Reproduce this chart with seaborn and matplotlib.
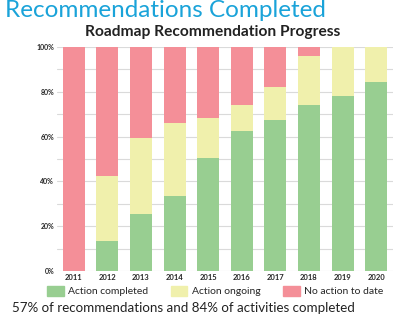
import matplotlib
matplotlib.use("Agg")
import matplotlib.pyplot as plt
import seaborn as sns
import pandas as pd
from matplotlib.patches import Patch

years = ["2011", "2012", "2013", "2014", "2015", "2016", "2017", "2018", "2019", "2020"]
completed = [0, 13.4, 25.6, 33.5, 50.4, 62.5, 67.4, 74.1, 78.1, 84.4]
ongoing = [0, 29.0, 33.6, 32.5, 17.9, 11.6, 14.7, 21.9, 21.9, 15.6]
no_action = [100, 57.6, 40.8, 34.0, 31.7, 25.9, 17.9, 4.0, 0, 0]
series_names = ["Action completed", "Action ongoing", "No action to date"]
yticks = [0, 20, 40, 60, 80, 100]

c_green = "#98CE91"
c_yellow = "#F0F0AC"
c_red = "#F48F98"

sns.set_theme(style="white")
plt.rcParams["font.family"] = ["Lato", "DejaVu Sans"]

df = pd.DataFrame({"year": years, "completed": completed, "ongoing": ongoing, "no_action": no_action})
df["top_ongoing"] = df["completed"] + df["ongoing"]
df["top_all"] = df["top_ongoing"] + df["no_action"]

fig = plt.figure(figsize=(4.02, 3.28), dpi=100)
ax = fig.add_axes([57 / 402, (328 - 271) / 328, 336 / 402, 224 / 328])

w = 0.66
sns.barplot(data=df, x="year", y="top_all", color=c_red, saturation=1, width=w, ax=ax, zorder=3, linewidth=0)
sns.barplot(data=df, x="year", y="top_ongoing", color=c_yellow, saturation=1, width=w, ax=ax, zorder=3, linewidth=0)
sns.barplot(data=df, x="year", y="completed", color=c_green, saturation=1, width=w, ax=ax, zorder=3, linewidth=0)

ax.set_ylim(0, 100)
ax.set_xlim(-0.5, 9.5)
ax.set_yticks(yticks)
ax.set_yticks(range(0, 101, 10), minor=True)
ax.yaxis.grid(True, which="both", color="#DADADA", linewidth=0.8)
ax.set_axisbelow(True)
ax.set_yticklabels([f"{t}%" for t in yticks], fontsize=5, fontweight="bold")
ax.tick_params(axis="x", labelsize=5.5, length=0, pad=2)
ax.tick_params(axis="y", which="both", length=0, pad=2)
for lab in ax.get_xticklabels():
    lab.set_fontweight("bold")
ax.set_xlabel("")
ax.set_ylabel("")
for s in ax.spines.values():
    s.set_visible(False)

fig.text(0.012, 1.0, "Recommendations Completed", color="#1AA3D9", fontsize=17.5, va="top", ha="left")
fig.text(0.528, 0.902, "Roadmap Recommendation Progress", fontsize=11.2, fontweight="bold", ha="center", va="center", color="#222222")

handles = [Patch(color=c_green), Patch(color=c_yellow), Patch(color=c_red)]
fig.legend(handles, series_names, loc="center", bbox_to_anchor=(0.535, (328 - 291) / 328), ncol=3,
           frameon=False, fontsize=7.5, handlelength=1.6, handleheight=1.1, columnspacing=2.2, handletextpad=0.4)

fig.text(0.03, (328 - 308) / 328, "57% of recommendations and 84% of activities completed", fontsize=9.6, ha="left", va="center", color="#222222")

fig.savefig("out.png", dpi=100)
